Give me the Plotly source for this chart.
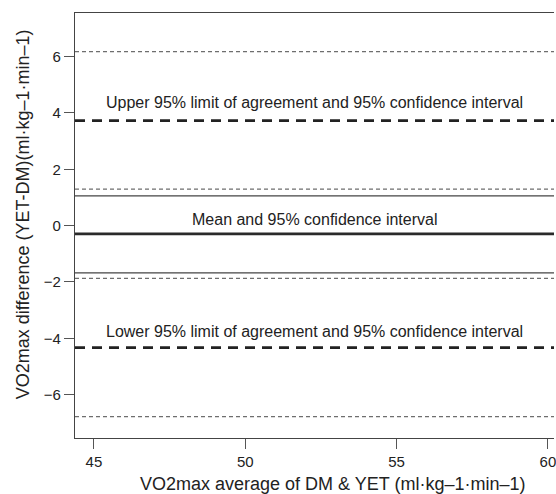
import plotly.graph_objects as go

# Horizontal reference lines (y values, ml·kg-1·min-1)
upper_loa = 3.73
upper_loa_ci = [6.18, 1.30]
mean_diff = -0.29
mean_ci = [1.06, -1.68]
lower_loa = -4.33
lower_loa_ci = [-1.87, -6.78]

label_texts = [
    "Upper 95% limit of agreement and 95% confidence interval",
    "Mean and 95% confidence interval",
    "Lower 95% limit of agreement and 95% confidence interval",
]
label_x = 52.3
label_y = [4.37, 0.21, -3.76]

x_ticks = [45, 50, 55, 60]
y_ticks = [-6, -4, -2, 0, 2, 4, 6]
x_range = [44.375, 60.2]
y_range = [-7.54, 7.55]

x_title = "VO2max average of DM & YET (ml·kg–1·min–1)"
y_title = "VO2max difference (YET-DM)(ml·kg–1·min–1)"

FONT = "Liberation Sans, Arial, sans-serif"
W, H = 556, 494
ML, MT, MB = 75, 13, 56
PW, PH = W - ML, H - MT - MB

fig = go.Figure()
# invisible trace to establish axes
fig.add_trace(go.Scatter(x=x_range, y=[0, 0], mode="lines",
                         line=dict(width=0), hoverinfo="skip", showlegend=False))

def hline(y, color, width, dash):
    fig.add_shape(type="line", xref="x", yref="y", x0=x_range[0], x1=x_range[1],
                  y0=y, y1=y, line=dict(color=color, width=width, dash=dash))

for v in upper_loa_ci + lower_loa_ci:
    hline(v, "#6e6e6e", 1.2, "4px,3px")
for v in mean_ci:
    hline(v, "#444444", 1.3, "solid")
hline(mean_diff, "#2a2a2a", 2.8, "solid")
for v in [upper_loa, lower_loa]:
    hline(v, "#222222", 2.8, "10px,7px")

for t, yv in zip(label_texts, label_y):
    fig.add_annotation(x=label_x, y=yv, text=t, showarrow=False,
                       xref="x", yref="y", xanchor="center", yanchor="middle",
                       font=dict(family=FONT, size=16, color="#222222"))

# axis titles as annotations (positioned like the reference)
fig.add_annotation(x=(334 - ML) / PW, y=(MT + PH - 484) / PH, xref="paper", yref="paper",
                   text=x_title, showarrow=False, xanchor="center", yanchor="middle",
                   font=dict(family=FONT, size=18, color="#222222"))
fig.add_annotation(x=(23 - ML) / PW, y=(MT + PH - 214) / PH, xref="paper", yref="paper",
                   text=y_title, showarrow=False, textangle=-90,
                   xanchor="center", yanchor="middle",
                   font=dict(family=FONT, size=18, color="#222222"))

fig.update_layout(
    width=W, height=H,
    margin=dict(l=ML, r=0, t=MT, b=MB),
    plot_bgcolor="white", paper_bgcolor="white",
    showlegend=False,
    font=dict(family=FONT, size=15, color="#222222"),
)
fig.update_xaxes(range=x_range, tickvals=x_ticks, showgrid=False, zeroline=False,
                 showline=True, linecolor="#444444", linewidth=1.3, mirror=True,
                 ticks="outside", ticklen=10, tickcolor="#555555", tickwidth=1.3,
                 ticklabeloverflow="allow",
                 tickfont=dict(family=FONT, size=15, color="#222222"))
fig.update_yaxes(range=y_range, tickvals=y_ticks, ticktext=[str(v).replace("-", "−") for v in y_ticks],
                 showgrid=False, zeroline=False,
                 showline=True, linecolor="#444444", linewidth=1.3,
                 ticks="outside", ticklen=10, tickcolor="#555555", tickwidth=1.3,
                 tickfont=dict(family=FONT, size=15, color="#222222"))

fig.write_html("out.html", config={"displayModeBar": False},
               post_script="document.body.style.margin='0';document.body.style.overflow='hidden';")
